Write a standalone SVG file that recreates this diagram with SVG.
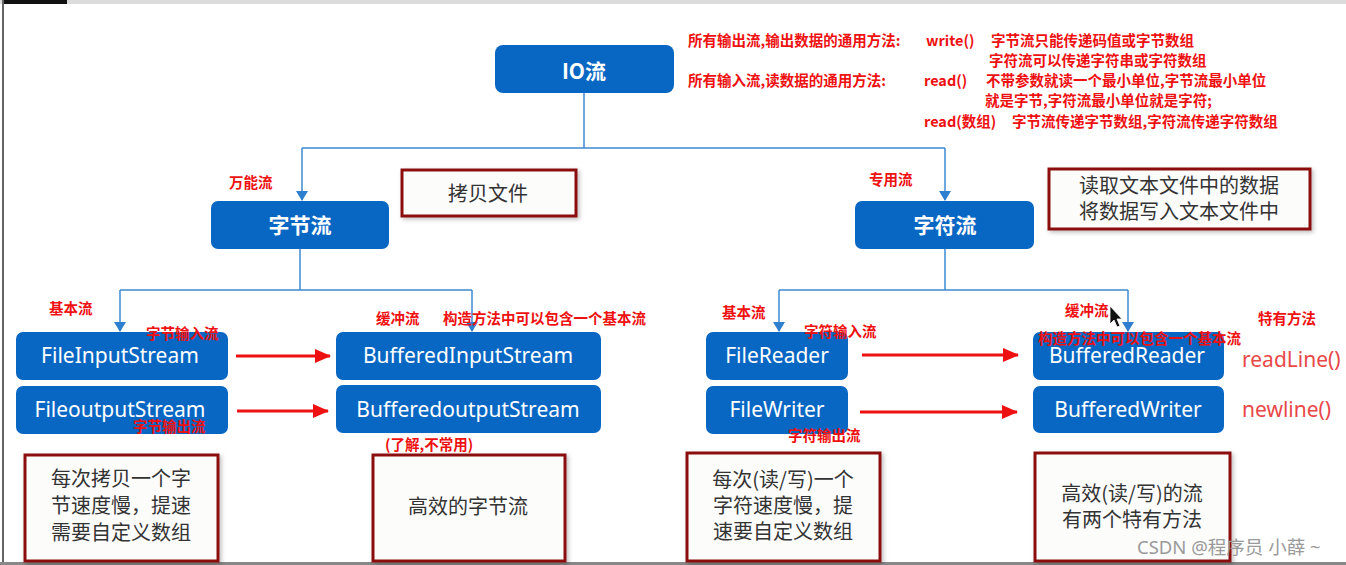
<svg xmlns="http://www.w3.org/2000/svg" width="1346" height="565" viewBox="0 0 1346 565">
<defs>
<marker id="ab" markerWidth="10" markerHeight="12" refX="9" refY="6" orient="auto" markerUnits="userSpaceOnUse"><path d="M0,0 L10,6 L0,12 Z" fill="#2f7fcf"/></marker>
<marker id="ar" markerWidth="16" markerHeight="14" refX="15" refY="7" orient="auto" markerUnits="userSpaceOnUse"><path d="M0,0 L16,7 L0,14 Z" fill="#ee1111"/></marker>
<filter id="sh" x="-10%" y="-10%" width="130%" height="130%"><feDropShadow dx="2" dy="2" stdDeviation="2" flood-color="#000" flood-opacity="0.25"/></filter>
</defs>
<style>
.bn{fill:#0967c4;}
.bt{fill:#fff;font-family:"Noto Sans","Noto Sans CJK SC",sans-serif;font-size:21px;text-anchor:middle;}
.bh{fill:#fff;font-family:"Noto Sans CJK SC",sans-serif;font-size:21px;font-weight:bold;text-anchor:middle;}
.rb{fill:#fcfcfb;stroke:#8b1111;stroke-width:3;filter:url(#sh);}
.rt{fill:#333;font-family:"Noto Sans CJK SC",sans-serif;font-size:20px;text-anchor:middle;}
.lab{fill:#ee1111;font-family:"Noto Sans CJK SC",sans-serif;font-size:14.5px;font-weight:bold;}
.note{fill:#ee1111;font-family:"Noto Sans CJK SC",sans-serif;font-size:14.5px;font-weight:bold;}
.meth{fill:#e84848;font-family:"Noto Sans","Noto Sans CJK SC",sans-serif;font-size:21px;}
.bl{fill:none;stroke:#3d8ad2;stroke-width:1.5;}
.rl{fill:none;stroke:#ee1111;stroke-width:3;}
</style>
<rect width="1346" height="565" fill="#fff"/>
<rect x="0" y="0" width="1346" height="4" fill="#dcdcdc"/>
<rect x="4" y="0" width="63" height="4" fill="#111"/>
<rect x="2" y="0" width="2" height="565" fill="#666"/>
<rect x="0" y="562" width="1346" height="3" fill="#888"/>

<g id="connectors">
<path class="bl" d="M584,93 V148 M302,148 H945 M302,148 V200" marker-end="url(#ab)"/>
<path class="bl" d="M945,148 V200" marker-end="url(#ab)"/>
<path class="bl" d="M300,249 V290 M120,290 H472 M120,290 V331" marker-end="url(#ab)"/>
<path class="bl" d="M472,290 V331" marker-end="url(#ab)"/>
<path class="bl" d="M945,249 V290 M779,290 H1128 M779,290 V331" marker-end="url(#ab)"/>
<path class="bl" d="M1128,290 V331" marker-end="url(#ab)"/>
<path class="rl" d="M236,356 H330" marker-end="url(#ar)"/>
<path class="rl" d="M237,411 H328" marker-end="url(#ar)"/>
<path class="rl" d="M862,355 H1018" marker-end="url(#ar)"/>
<path class="rl" d="M860,412 H1017" marker-end="url(#ar)"/>
</g>

<g id="io"><rect class="bn" x="495" y="45" width="179" height="48" rx="8"/><text class="bh" x="584" y="79">IO流</text></g>
<g id="byte"><rect class="bn" x="211" y="201" width="178" height="48" rx="7"/><text class="bh" x="300" y="233">字节流</text></g>
<g id="char"><rect class="bn" x="855" y="201" width="179" height="48" rx="7"/><text class="bh" x="945" y="233">字符流</text></g>

<g id="fis"><rect class="bn" x="16" y="332" width="212" height="48" rx="7"/><text class="bt" x="120" y="363">FileInputStream</text></g>
<g id="fos"><rect class="bn" x="16" y="386" width="212" height="48" rx="7"/><text class="bt" x="120" y="417">FileoutputStream</text></g>
<g id="bis"><rect class="bn" x="336" y="332" width="265" height="48" rx="7"/><text class="bt" x="468" y="363">BufferedInputStream</text></g>
<g id="bos"><rect class="bn" x="336" y="385" width="265" height="48" rx="7"/><text class="bt" x="468" y="417">BufferedoutputStream</text></g>
<g id="fr"><rect class="bn" x="706" y="332" width="142" height="48" rx="7"/><text class="bt" x="777" y="363">FileReader</text></g>
<g id="fw"><rect class="bn" x="706" y="386" width="142" height="48" rx="7"/><text class="bt" x="777" y="417">FileWriter</text></g>
<g id="br"><rect class="bn" x="1033" y="332" width="191" height="48" rx="7"/><text class="bt" x="1127" y="363">BufferedReader</text></g>
<g id="bw"><rect class="bn" x="1033" y="386" width="191" height="47" rx="7"/><text class="bt" x="1128" y="417">BufferedWriter</text></g>

<g id="copy"><rect class="rb" x="402" y="170" width="174" height="46"/><text class="rt" x="488" y="201">拷贝文件</text></g>
<g id="readtext"><rect class="rb" x="1049" y="169" width="261" height="60"/><text class="rt" x="1179" y="193">读取文本文件中的数据</text><text class="rt" x="1179" y="219">将数据写入文本文件中</text></g>
<g id="note1"><rect class="rb" x="25" y="455" width="193" height="106"/><text class="rt" x="121" y="486">每次拷贝一个字</text><text class="rt" x="121" y="513">节速度慢，提速</text><text class="rt" x="121" y="540">需要自定义数组</text></g>
<g id="note2"><rect class="rb" x="373" y="455" width="192" height="106"/><text class="rt" x="468" y="514">高效的字节流</text></g>
<g id="note3"><rect class="rb" x="687" y="453" width="193" height="108"/><text class="rt" x="783" y="487">每次(读/写)一个</text><text class="rt" x="783" y="513">字符速度慢，提</text><text class="rt" x="783" y="539">速要自定义数组</text></g>
<g id="note4"><rect class="rb" x="1035" y="453" width="195" height="108"/><text class="rt" x="1132" y="501">高效(读/写)的流</text><text class="rt" x="1132" y="527">有两个特有方法</text></g>

<g id="labels">
<text class="lab" x="229" y="188">万能流</text>
<text class="lab" x="869" y="185">专用流</text>
<text class="lab" x="49" y="314">基本流</text>
<text class="lab" x="146" y="339">字节输入流</text>
<text class="lab" x="376" y="324">缓冲流</text>
<text class="lab" x="443" y="324">构造方法中可以包含一个基本流</text>
<text class="lab" x="133" y="432">字节输出流</text>
<text class="lab" x="385" y="450">(了解,不常用)</text>
<text class="lab" x="722" y="318">基本流</text>
<text class="lab" x="804" y="337">字符输入流</text>
<text class="lab" x="1065" y="316">缓冲流</text>
<text class="lab" x="1038" y="344">构造方法中可以包含一个基本流</text>
<text class="lab" x="1258" y="324">特有方法</text>
<text class="lab" x="788" y="441">字符输出流</text>
<text class="meth" x="1242" y="367">readLine()</text>
<text class="meth" x="1242" y="417">newline()</text>
</g>

<g id="notes">
<text class="note" x="688" y="46">所有输出流,输出数据的通用方法:</text>
<text class="note" x="926" y="46">write()</text>
<text class="note" x="991" y="46">字节流只能传递码值或字节数组</text>
<text class="note" x="989" y="66">字符流可以传递字符串或字符数组</text>
<text class="note" x="688" y="86">所有输入流,读数据的通用方法:</text>
<text class="note" x="924" y="86">read()</text>
<text class="note" x="986" y="86">不带参数就读一个最小单位,字节流最小单位</text>
<text class="note" x="985" y="106">就是字节,字符流最小单位就是字符;</text>
<text class="note" x="924" y="127">read(数组)</text>
<text class="note" x="1012" y="127">字节流传递字节数组,字符流传递字符数组</text>
</g>

<g id="cursor"><path d="M1110,306 L1110,324 L1114,320 L1117,327 L1120,326 L1117,319 L1122,319 Z" fill="#111" stroke="#fff" stroke-width="0.8"/></g>

<text x="1137" y="554" fill="#9a9a9a" font-family="Noto Sans,Noto Sans CJK SC,sans-serif" font-size="18.5">CSDN @程序员 小薛 ~</text>
</svg>
